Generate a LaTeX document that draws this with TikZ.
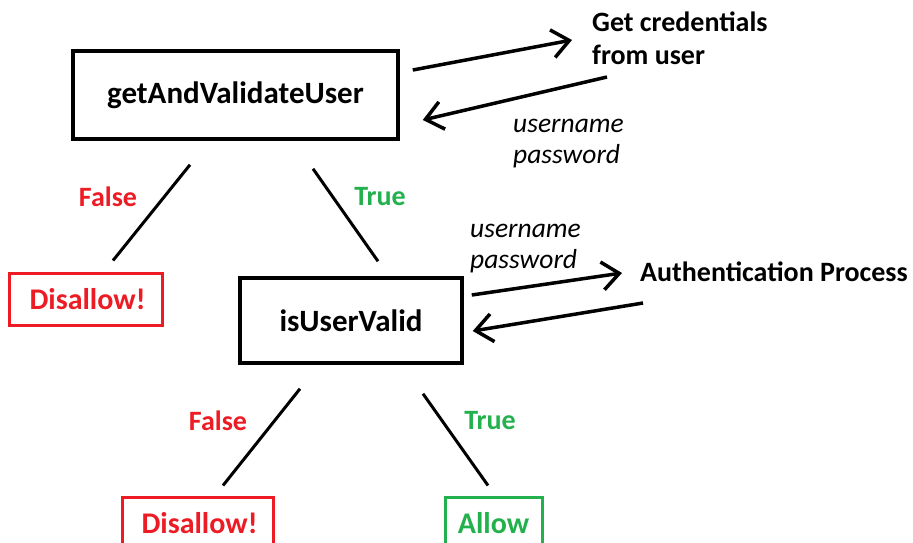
\documentclass[tikz,border=0pt]{standalone}
\usepackage{fontspec}
\setmainfont{Carlito}
\usepackage{tikz}
\usetikzlibrary{positioning}
\usetikzlibrary{calc}
\usetikzlibrary{arrows.meta}

\definecolor{paintred}{HTML}{ED1C24}
\definecolor{paintgreen}{HTML}{22B14C}

\tikzset{
  mainbox/.style={draw, line width=3.5pt, inner sep=0pt, font=\fontsize{31}{34}\selectfont\bfseries},
  endbox/.style={draw, line width=3pt, inner sep=0pt, minimum height=52pt, font=\fontsize{30}{34}\selectfont\bfseries},
  note/.style={inner sep=0pt, align=left, font=\fontsize{28}{33}\selectfont\bfseries},
  data/.style={inner sep=0pt, align=left, font=\fontsize{27.5}{31}\selectfont\itshape},
  branchlabel/.style={inner sep=0pt, font=\fontsize{28}{30}\selectfont\bfseries},
  branch/.style={line width=3pt},
  flow/.style={line width=3.5pt, -{Straight Barb[length=17pt,width=28pt]}}
}

\begin{document}
\begin{tikzpicture}[x=1pt,y=-1pt]
        \useasboundingbox (0,0) rectangle (913,542);
        \clip (0,0) rectangle (913,542);

        % decision boxes
        \node[mainbox, minimum width=325pt, minimum height=88pt] (gavu) at (235.5,95) {getAndValidateUser};
        \node[mainbox, minimum width=222pt, minimum height=85pt] (iuv) at (351,320.5) {isUserValid};

        % outcomes
        \node[endbox, paintred, minimum width=153pt] (disA) at (85.5,299) {\hspace{4pt}Disallow!};
        \node[endbox, paintred, minimum width=151pt] (disB) at (197.5,523) {\hspace{4pt}Disallow!};
        \node[endbox, paintgreen, minimum width=97pt] (allow) at (493.5,523) {Allow};

        % side processes
        \node[note, anchor=west] (cred) at (592,38) {Get credentials\\from user};
        \node[note, anchor=west] (auth) at (640,272) {Authentication Process};
        \node[data, anchor=west] (upA) at (513,144) {username\\password};
        \node[data, anchor=west] (upB) at (470,249) {username\\password};

        % branch labels
        \node[branchlabel, paintred] (fA) at (108,197) {False};
        \node[branchlabel, paintgreen] (tA) at (380,197) {True};
        \node[branchlabel, paintred] (fB) at (218,421) {False};
        \node[branchlabel, paintgreen] (tB) at (490,421) {True};

        % branches
        \draw[branch] ($(gavu.south)+(-45.5,24)$) -- ($(disA.north)+(27.5,-11)$);
        \draw[branch] ($(gavu.south)+(77.5,28)$) -- ($(iuv.north)+(27,-15)$);
        \draw[branch] ($(iuv.south)+(-51,24)$) -- ($(disB.north)+(25.5,-10)$);
        \draw[branch] ($(iuv.south)+(72,29)$) -- ($(allow.north)+(-5.5,-10)$);

        % requests and replies
        \draw[flow] ($(gavu.east)+(13,-25)$) -- ($(cred.west)+(-20,2)$);
        \draw[flow] ($(cred.west)+(15,39)$) -- ($(gavu.east)+(23,25)$);
        \draw[flow] ($(iuv.east)+(8,-25.5)$) -- ($(auth.west)+(-18,1)$);
        \draw[flow] ($(auth.west)+(3,31)$) -- ($(iuv.east)+(9,10.5)$);
\end{tikzpicture}
\end{document}
